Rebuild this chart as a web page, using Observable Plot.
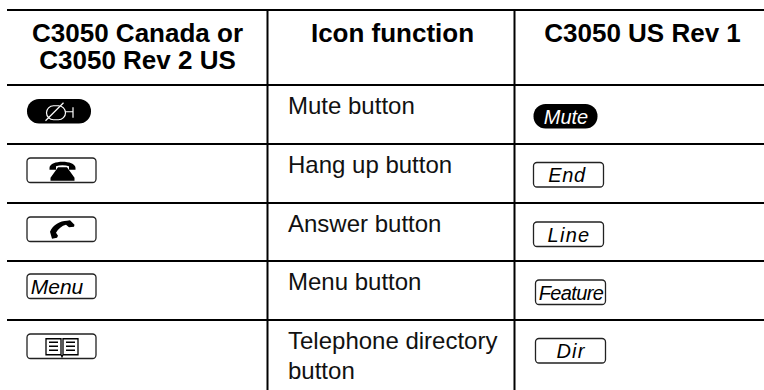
<!DOCTYPE html>
<html><head><meta charset="utf-8">
<script src="https://cdn.jsdelivr.net/npm/d3@7"></script>
<script src="https://cdn.jsdelivr.net/npm/@observablehq/plot@0.6"></script>
<style>html,body{margin:0;padding:0;background:#fff}svg{display:block}</style>
</head><body><div id="chart"></div>
<script>
// ---- content ----
const headerLines = [["C3050 Canada or","C3050 Rev 2 US"],["Icon function"],["C3050 US Rev 1"]];
const functionNames = [["Mute button"],["Hang up button"],["Answer button"],["Menu button"],["Telephone directory","button"]];
const leftLabels = ["", "", "", "Menu", ""];
const rightLabels = ["Mute","End","Line","Feature","Dir"];

// ---- layout (table space, one unit per pixel) ----
const L = {
  w:764, h:390,
  rows:[9.5,84.5,143.5,202.5,260.5,319.5],
  cols:[267,514], left:7,
  headCx:[137,392,642], headBase:[41,41,41], headStep:27,
  textX:287.5, textBase:[113,172,231,289,348], textStep:30,
  lBtn:{x1:27,x2:96,y:[99,158,217,274,334],h:24.5},
  rBtn:{x:[533.5,533.5,533.5,535.5,535.5],w:70,y:[104,162.5,222,280,338.5],h:24.5},
  rSpacing:[0,0.7,1.3,-0.6,1.2],
  rShift:[-3,-2,0,0,0]
};
const black="#000", ink="#222";

// ---- icons drawn as custom dot symbols (pixel units, centred) ----
const micSym = {draw(c){
  c.moveTo(-7,-6); c.lineTo(-2,-6); c.arc(-2,1,7,-Math.PI/2,Math.PI/2); c.lineTo(-7,8); c.arc(-7,1,7,Math.PI/2,-Math.PI/2);
  c.moveTo(5,0); c.lineTo(12.5,0); c.moveTo(12.5,-4.5); c.lineTo(12.5,6);
  c.moveTo(-15,9); c.lineTo(3,-9);
}};
const hangSym = {draw(c){
  c.moveTo(-12.5,-3);c.bezierCurveTo(-12,-11,13,-11,13.5,-3);c.lineTo(13.5,-1);c.lineTo(7,-1);c.lineTo(7,-4.5);
  c.bezierCurveTo(3,-6,-2,-6,-6,-4.5);c.lineTo(-6,-1);c.lineTo(-12.5,-1);c.closePath();
  c.moveTo(-4,-3.5);c.lineTo(5,-3.5);c.lineTo(12.5,7);c.lineTo(12.5,10);c.lineTo(-11.5,10);c.lineTo(-11.5,7);c.closePath();
}};
const answerSym = {draw(c){
  c.moveTo(-12,2);c.bezierCurveTo(-9,-5,-2,-9,5,-9);c.lineTo(8,-9.5);c.lineTo(12.5,-5);c.lineTo(12,-3);c.lineTo(7,-2.5);c.lineTo(4,-5);
  c.bezierCurveTo(0,-4,-4,-1,-6,3);c.lineTo(-4,6);c.lineTo(-5,8);c.lineTo(-10,9);c.closePath();
}};
const bookSym = {draw(c){
  c.moveTo(-16,-8);c.lineTo(-1,-8);c.lineTo(-1,8);c.lineTo(-16,8);c.closePath();
  c.moveTo(1,-8);c.lineTo(16,-8);c.lineTo(16,8);c.lineTo(1,8);c.closePath();
  for(const y of [-4.5,-0.5,3.5]){c.moveTo(-13,y);c.lineTo(-4,y);c.moveTo(4,y);c.lineTo(13,y);}
  c.moveTo(-1,8);c.lineTo(0,10);c.lineTo(1,8);
}};

// ---- flattened tables for the marks ----
const headerRows = headerLines.flatMap((ls,i)=>ls.map((t,j)=>({t,x:L.headCx[i],y:L.headBase[i]+j*L.headStep})));
const bodyRows = functionNames.flatMap((ls,i)=>ls.map((t,j)=>({t,x:L.textX,y:L.textBase[i]+j*L.textStep})));
const lBtn = L.lBtn.y.map((y,i)=>({x1:L.lBtn.x1,x2:L.lBtn.x2,y1:y,y2:y+L.lBtn.h,i}));
const rBtn = L.rBtn.y.map((y,i)=>({x1:L.rBtn.x[i],x2:L.rBtn.x[i]+L.rBtn.w,y1:y,y2:y+L.rBtn.h,i}));
const outline = a=>a.filter(d=>d.i!==0);
const rightText = rBtn.map((d,i)=>({t:rightLabels[i],x:(d.x1+d.x2)/2+L.rShift[i],y:(d.y1+d.y2)/2+0.5,fill:i===0?"#fff":"#000",ls:L.rSpacing[i]}));
const base = {x:"x",y:"y",text:"t",fontFamily:"Liberation Sans, Arial, sans-serif"};

const plot = Plot.plot({
  width:L.w,height:L.h,margin:0,
  x:{domain:[0,L.w],range:[0,L.w],axis:null},
  y:{domain:[0,L.h],range:[0,L.h],axis:null},
  marks:[
    Plot.ruleY(L.rows,{x1:L.left,x2:L.w,stroke:black,strokeWidth:2}),
    Plot.ruleX(L.cols,{y1:L.rows[0],y2:L.h,stroke:black,strokeWidth:2}),
    Plot.text(headerRows,{...base,textAnchor:"middle",lineAnchor:"bottom",fontWeight:"bold",fontSize:26,fill:black}),
    Plot.text(bodyRows,{...base,textAnchor:"start",lineAnchor:"bottom",fontSize:24,fill:"#111"}),
    // left buttons
    Plot.rect([lBtn[0]],{x1:"x1",x2:d=>d.x1+64,y1:"y1",y2:"y2",fill:black,rx:12}),
    Plot.rect(outline(lBtn),{x1:"x1",x2:"x2",y1:"y1",y2:"y2",fill:"#fff",stroke:ink,strokeWidth:1.3,rx:3.5}),
    Plot.dot([lBtn[0]],{x:d=>d.x1+33,y:d=>(d.y1+d.y2)/2,symbol:micSym,fill:"none",stroke:"#fff",strokeWidth:1.2}),
    Plot.dot([lBtn[1]],{x:d=>(d.x1+d.x2)/2,y:d=>(d.y1+d.y2)/2,symbol:hangSym,fill:black,stroke:"none"}),
    Plot.dot([lBtn[2]],{x:d=>(d.x1+d.x2)/2,y:d=>(d.y1+d.y2)/2,symbol:answerSym,fill:black,stroke:"none"}),
    Plot.dot([lBtn[4]],{x:d=>(d.x1+d.x2)/2,y:d=>(d.y1+d.y2)/2,symbol:bookSym,fill:"none",stroke:black,strokeWidth:1.3}),
    Plot.text([lBtn[3]],{x:d=>(d.x1+d.x2)/2-5,y:d=>(d.y1+d.y2)/2+0.5,text:d=>leftLabels[d.i],fontFamily:base.fontFamily,fontStyle:"italic",fontSize:21,fill:black}),
    // right buttons
    Plot.rect([rBtn[0]],{x1:"x1",x2:d=>d.x1+64,y1:"y1",y2:"y2",fill:black,rx:12}),
    Plot.rect(outline(rBtn),{x1:"x1",x2:"x2",y1:"y1",y2:"y2",fill:"#fff",stroke:ink,strokeWidth:1.3,rx:3.5}),
    Plot.text(rightText,{...base,fill:"fill",fontStyle:"italic",fontSize:20,
      render(index,scales,values,dims,ctx,next){
        const g=next(index,scales,values,dims,ctx);
        d3.select(g).selectAll("text").style("letter-spacing",(_,i)=>rightText[index[i]].ls+"px");
        return g;
      }})
  ]
});
document.getElementById("chart").append(plot);
</script></body></html>
